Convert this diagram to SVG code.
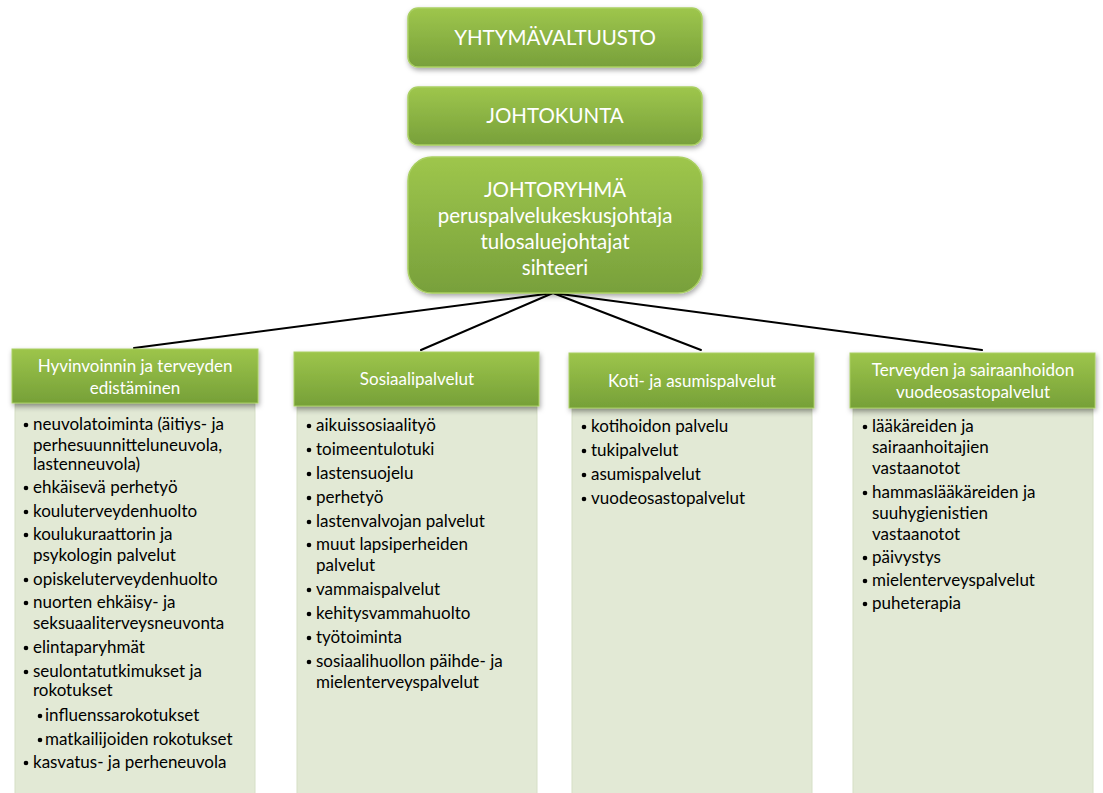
<svg xmlns="http://www.w3.org/2000/svg" width="1103" height="793" viewBox="0 0 1103 793">
  <defs>
    <linearGradient id="gTop" x1="0" y1="0" x2="0" y2="1">
      <stop offset="0" stop-color="#9ec64c"/>
      <stop offset="1" stop-color="#78a03b"/>
    </linearGradient>
    <linearGradient id="gHead" x1="0" y1="0" x2="0" y2="1">
      <stop offset="0" stop-color="#9dc54b"/>
      <stop offset="1" stop-color="#76a038"/>
    </linearGradient>
    <linearGradient id="gBodyShade" x1="0" y1="0" x2="0" y2="1">
      <stop offset="0" stop-color="#000" stop-opacity="0.10"/>
      <stop offset="1" stop-color="#000" stop-opacity="0"/>
    </linearGradient>
    <filter id="shadow" x="-10%" y="-20%" width="120%" height="150%">
      <feDropShadow dx="1" dy="2.5" stdDeviation="2.5" flood-color="#000" flood-opacity="0.35"/>
    </filter>
  </defs>
  <style>
    .top { fill: url(#gTop); stroke: #a9cf62; stroke-width: 1.5; filter: url(#shadow); }
    .head { fill: url(#gHead); stroke: #a9cf62; stroke-width: 1; filter: url(#shadow); }
    .body { fill: #e2e9d5; stroke: #d6dfc6; stroke-width: 1; }
    .shade { fill: url(#gBodyShade); }
    .tt { font-family: Lato, "Open Sans", sans-serif; fill: #fff; text-anchor: middle; }
    .big { font-size: 20.5px; }
    .hd { font-size: 17px; }
    .li { font-family: Lato, "Open Sans", sans-serif; font-size: 17px; fill: #000; }
    .dot { fill: #000; }
    .conn { stroke: #000; stroke-width: 2; fill: none; stroke-linecap: round; }
  </style>

  <!-- connectors from the management group to the four service areas -->
  <g id="connectors">
    <line class="conn" x1="553" y1="293" x2="134" y2="348"/>
    <line class="conn" x1="553" y1="293" x2="421" y2="350"/>
    <line class="conn" x1="553" y1="293" x2="701" y2="350"/>
    <line class="conn" x1="553" y1="293" x2="982" y2="350"/>
  </g>

  <g id="yhtymavaltuusto">
    <rect class="top" x="408" y="8" width="294" height="59" rx="10"/>
    <text class="tt big" x="555" y="45">YHTYMÄVALTUUSTO</text>
  </g>

  <g id="johtokunta">
    <rect class="top" x="408" y="87" width="294" height="58" rx="10"/>
    <text class="tt big" x="555" y="123">JOHTOKUNTA</text>
  </g>

  <g id="johtoryhma">
    <rect class="top" x="408" y="157" width="294" height="136" rx="24"/>
    <text class="tt big" x="555" y="197">JOHTORYHMÄ</text>
    <text class="tt big" x="555" y="223">peruspalvelukeskusjohtaja</text>
    <text class="tt big" x="555" y="249">tulosaluejohtajat</text>
    <text class="tt big" x="555" y="275">sihteeri</text>
  </g>

  <!-- area 1 -->
  <g id="hyvinvointi">
    <rect class="body" x="15" y="403" width="240" height="395"/>
    <rect class="shade" x="15" y="403" width="240" height="10"/>
    <rect class="head" x="12" y="349" width="246" height="54"/>
    <text class="tt hd" x="135" y="372">Hyvinvoinnin ja terveyden</text>
    <text class="tt hd" x="135" y="394">edistäminen</text>
    <g class="li">
      <circle class="dot" cx="26" cy="425" r="2.3"/><text x="33" y="430">neuvolatoiminta (äitiys- ja</text>
      <text x="33" y="451">perhesuunnitteluneuvola,</text>
      <text x="33" y="470">lastenneuvola)</text>
      <circle class="dot" cx="26" cy="488" r="2.3"/><text x="33" y="493">ehkäisevä perhetyö</text>
      <circle class="dot" cx="26" cy="512" r="2.3"/><text x="33" y="517">kouluterveydenhuolto</text>
      <circle class="dot" cx="26" cy="535" r="2.3"/><text x="33" y="540">koulukuraattorin ja</text>
      <text x="33" y="561">psykologin palvelut</text>
      <circle class="dot" cx="26" cy="580" r="2.3"/><text x="33" y="585">opiskeluterveydenhuolto</text>
      <circle class="dot" cx="26" cy="603" r="2.3"/><text x="33" y="608">nuorten ehkäisy- ja</text>
      <text x="33" y="629">seksuaaliterveysneuvonta</text>
      <circle class="dot" cx="26" cy="648" r="2.3"/><text x="33" y="653">elintaparyhmät</text>
      <circle class="dot" cx="26" cy="672" r="2.3"/><text x="33" y="677">seulontatutkimukset ja</text>
      <text x="33" y="696">rokotukset</text>
      <circle class="dot" cx="40" cy="716" r="2.3"/><text x="45" y="721">influenssarokotukset</text>
      <circle class="dot" cx="40" cy="740" r="2.3"/><text x="45" y="745">matkailijoiden rokotukset</text>
      <circle class="dot" cx="26" cy="763" r="2.3"/><text x="33" y="768">kasvatus- ja perheneuvola</text>
    </g>
  </g>

  <!-- area 2 -->
  <g id="sosiaalipalvelut">
    <rect class="body" x="297" y="406" width="240" height="392"/>
    <rect class="shade" x="297" y="406" width="240" height="10"/>
    <rect class="head" x="294" y="352" width="245" height="54"/>
    <text class="tt hd" x="417" y="385">Sosiaalipalvelut</text>
    <g class="li">
      <circle class="dot" cx="309" cy="426" r="2.3"/><text x="316" y="431">aikuissosiaalityö</text>
      <circle class="dot" cx="309" cy="450" r="2.3"/><text x="316" y="455">toimeentulotuki</text>
      <circle class="dot" cx="309" cy="474" r="2.3"/><text x="316" y="479">lastensuojelu</text>
      <circle class="dot" cx="309" cy="498" r="2.3"/><text x="316" y="503">perhetyö</text>
      <circle class="dot" cx="309" cy="522" r="2.3"/><text x="316" y="527">lastenvalvojan palvelut</text>
      <circle class="dot" cx="309" cy="545" r="2.3"/><text x="316" y="550">muut lapsiperheiden</text>
      <text x="316" y="571">palvelut</text>
      <circle class="dot" cx="309" cy="590" r="2.3"/><text x="316" y="595">vammaispalvelut</text>
      <circle class="dot" cx="309" cy="614" r="2.3"/><text x="316" y="619">kehitysvammahuolto</text>
      <circle class="dot" cx="309" cy="638" r="2.3"/><text x="316" y="643">työtoiminta</text>
      <circle class="dot" cx="309" cy="662" r="2.3"/><text x="316" y="667">sosiaalihuollon päihde- ja</text>
      <text x="316" y="688">mielenterveyspalvelut</text>
    </g>
  </g>

  <!-- area 3 -->
  <g id="koti-ja-asumispalvelut">
    <rect class="body" x="572" y="408" width="240" height="390"/>
    <rect class="shade" x="572" y="408" width="240" height="10"/>
    <rect class="head" x="569" y="353" width="245" height="55"/>
    <text class="tt hd" x="692" y="387">Koti- ja asumispalvelut</text>
    <g class="li">
      <circle class="dot" cx="584" cy="427" r="2.3"/><text x="591" y="432">kotihoidon palvelu</text>
      <circle class="dot" cx="584" cy="451" r="2.3"/><text x="591" y="456">tukipalvelut</text>
      <circle class="dot" cx="584" cy="475" r="2.3"/><text x="591" y="480">asumispalvelut</text>
      <circle class="dot" cx="584" cy="499" r="2.3"/><text x="591" y="504">vuodeosastopalvelut</text>
    </g>
  </g>

  <!-- area 4 -->
  <g id="vuodeosastopalvelut">
    <rect class="body" x="853" y="408" width="240" height="390"/>
    <rect class="shade" x="853" y="408" width="240" height="10"/>
    <rect class="head" x="850" y="353" width="245" height="55"/>
    <text class="tt hd" x="973" y="376">Terveyden ja sairaanhoidon</text>
    <text class="tt hd" x="973" y="398">vuodeosastopalvelut</text>
    <g class="li">
      <circle class="dot" cx="865" cy="427" r="2.3"/><text x="872" y="432">lääkäreiden ja</text>
      <text x="872" y="453">sairaanhoitajien</text>
      <text x="872" y="474">vastaanotot</text>
      <circle class="dot" cx="865" cy="493" r="2.3"/><text x="872" y="498">hammaslääkäreiden ja</text>
      <text x="872" y="519">suuhygienistien</text>
      <text x="872" y="540">vastaanotot</text>
      <circle class="dot" cx="865" cy="558" r="2.3"/><text x="872" y="563">päivystys</text>
      <circle class="dot" cx="865" cy="581" r="2.3"/><text x="872" y="586">mielenterveyspalvelut</text>
      <circle class="dot" cx="865" cy="604" r="2.3"/><text x="872" y="609">puheterapia</text>
    </g>
  </g>
</svg>
